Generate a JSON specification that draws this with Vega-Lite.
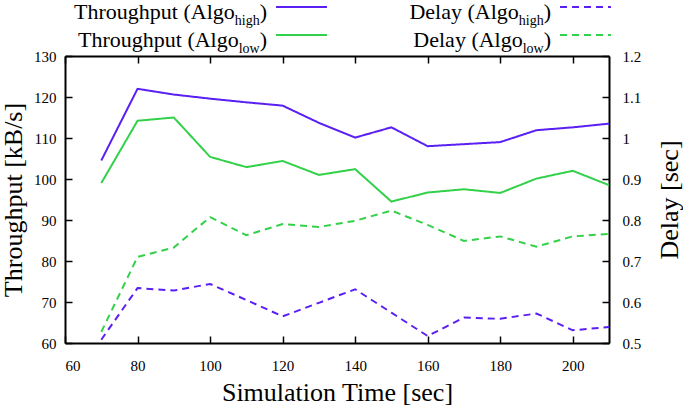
{
  "$schema": "https://vega.github.io/schema/vega-lite/v6.json",
  "background": "white",
  "padding": {"left": 0, "top": 0, "right": 0, "bottom": 0},
  "bounds": "flush",
  "spacing": 14,
  "config": {
    "font": "Times New Roman",
    "view": {"stroke": null},
    "axis": {
      "grid": false,
      "domainColor": "black",
      "domainWidth": 2,
      "tickColor": "black",
      "tickWidth": 1.5,
      "tickSize": -7,
      "labelFont": "Times New Roman",
      "labelFontSize": 15,
      "labelColor": "black",
      "titleFont": "Times New Roman",
      "titleFontSize": 26,
      "titleFontWeight": "normal",
      "titleColor": "black"
    }
  },
  "datasets": {
    "series": [
      {"t": 70, "metric": "Throughput", "algo": "high", "v": 104.5},
      {"t": 80, "metric": "Throughput", "algo": "high", "v": 122},
      {"t": 90, "metric": "Throughput", "algo": "high", "v": 120.6},
      {"t": 100, "metric": "Throughput", "algo": "high", "v": 119.6},
      {"t": 110, "metric": "Throughput", "algo": "high", "v": 118.7},
      {"t": 120, "metric": "Throughput", "algo": "high", "v": 117.9},
      {"t": 130, "metric": "Throughput", "algo": "high", "v": 113.7},
      {"t": 140, "metric": "Throughput", "algo": "high", "v": 110.1},
      {"t": 150, "metric": "Throughput", "algo": "high", "v": 112.6},
      {"t": 160, "metric": "Throughput", "algo": "high", "v": 108},
      {"t": 170, "metric": "Throughput", "algo": "high", "v": 108.5},
      {"t": 180, "metric": "Throughput", "algo": "high", "v": 109},
      {"t": 190, "metric": "Throughput", "algo": "high", "v": 111.9},
      {"t": 200, "metric": "Throughput", "algo": "high", "v": 112.6},
      {"t": 210, "metric": "Throughput", "algo": "high", "v": 113.5},
      {"t": 70, "metric": "Throughput", "algo": "low", "v": 99},
      {"t": 80, "metric": "Throughput", "algo": "low", "v": 114.2},
      {"t": 90, "metric": "Throughput", "algo": "low", "v": 115},
      {"t": 100, "metric": "Throughput", "algo": "low", "v": 105.4},
      {"t": 110, "metric": "Throughput", "algo": "low", "v": 102.9},
      {"t": 120, "metric": "Throughput", "algo": "low", "v": 104.4},
      {"t": 130, "metric": "Throughput", "algo": "low", "v": 101},
      {"t": 140, "metric": "Throughput", "algo": "low", "v": 102.4},
      {"t": 150, "metric": "Throughput", "algo": "low", "v": 94.5},
      {"t": 160, "metric": "Throughput", "algo": "low", "v": 96.7},
      {"t": 170, "metric": "Throughput", "algo": "low", "v": 97.5},
      {"t": 180, "metric": "Throughput", "algo": "low", "v": 96.6},
      {"t": 190, "metric": "Throughput", "algo": "low", "v": 100.1},
      {"t": 200, "metric": "Throughput", "algo": "low", "v": 102},
      {"t": 210, "metric": "Throughput", "algo": "low", "v": 98.5},
      {"t": 70, "metric": "Delay", "algo": "high", "v": 0.508},
      {"t": 80, "metric": "Delay", "algo": "high", "v": 0.634},
      {"t": 90, "metric": "Delay", "algo": "high", "v": 0.628},
      {"t": 100, "metric": "Delay", "algo": "high", "v": 0.644},
      {"t": 110, "metric": "Delay", "algo": "high", "v": 0.605},
      {"t": 120, "metric": "Delay", "algo": "high", "v": 0.565},
      {"t": 130, "metric": "Delay", "algo": "high", "v": 0.598},
      {"t": 140, "metric": "Delay", "algo": "high", "v": 0.631},
      {"t": 150, "metric": "Delay", "algo": "high", "v": 0.574},
      {"t": 160, "metric": "Delay", "algo": "high", "v": 0.517},
      {"t": 170, "metric": "Delay", "algo": "high", "v": 0.562},
      {"t": 180, "metric": "Delay", "algo": "high", "v": 0.559},
      {"t": 190, "metric": "Delay", "algo": "high", "v": 0.572},
      {"t": 200, "metric": "Delay", "algo": "high", "v": 0.531},
      {"t": 210, "metric": "Delay", "algo": "high", "v": 0.539},
      {"t": 70, "metric": "Delay", "algo": "low", "v": 0.527},
      {"t": 80, "metric": "Delay", "algo": "low", "v": 0.71},
      {"t": 90, "metric": "Delay", "algo": "low", "v": 0.733},
      {"t": 100, "metric": "Delay", "algo": "low", "v": 0.807},
      {"t": 110, "metric": "Delay", "algo": "low", "v": 0.763},
      {"t": 120, "metric": "Delay", "algo": "low", "v": 0.79},
      {"t": 130, "metric": "Delay", "algo": "low", "v": 0.783},
      {"t": 140, "metric": "Delay", "algo": "low", "v": 0.798},
      {"t": 150, "metric": "Delay", "algo": "low", "v": 0.823},
      {"t": 160, "metric": "Delay", "algo": "low", "v": 0.788},
      {"t": 170, "metric": "Delay", "algo": "low", "v": 0.749},
      {"t": 180, "metric": "Delay", "algo": "low", "v": 0.76},
      {"t": 190, "metric": "Delay", "algo": "low", "v": 0.735},
      {"t": 200, "metric": "Delay", "algo": "low", "v": 0.76},
      {"t": 210, "metric": "Delay", "algo": "low", "v": 0.766}
    ],
    "keys": [
      {"metric": "Throughput", "algo": "high", "label": "Throughput (Algo", "sub": "high"},
      {"metric": "Throughput", "algo": "low", "label": "Throughput (Algo", "sub": "low"},
      {"metric": "Delay", "algo": "high", "label": "Delay (Algo", "sub": "high"},
      {"metric": "Delay", "algo": "low", "label": "Delay (Algo", "sub": "low"}
    ]
  },
  "vconcat": [
    {
      "width": 568,
      "height": 42,
      "data": {"name": "keys"},
      "encoding": {
        "y": {"field": "algo", "type": "nominal", "scale": {"type": "point", "domain": ["high", "low"], "padding": 0.25}, "axis": null},
        "color": {"field": "algo", "type": "nominal", "scale": {"domain": ["high", "low"], "range": ["#5a1ff2", "#33d14a"]}, "legend": null}
      },
      "layer": [
        {
          "mark": {"type": "rule", "strokeWidth": 2},
          "encoding": {
            "x": {"field": "metric", "type": "nominal", "bandPosition": 0.743, "scale": {"type": "band", "domain": ["Throughput", "Delay"], "paddingInner": 0, "paddingOuter": 0}, "axis": null},
            "x2": {"field": "metric", "bandPosition": 0.9225},
            "strokeDash": {"field": "metric", "type": "nominal", "scale": {"domain": ["Throughput", "Delay"], "range": [[1, 0], [7, 5]]}, "legend": null}
          }
        },
        {
          "mark": {"type": "text", "text": ")", "align": "right", "baseline": "alphabetic", "dx": -9, "dy": 12, "fontSize": 22, "font": "Times New Roman"},
          "encoding": {
            "x": {"field": "metric", "type": "nominal", "bandPosition": 0.743, "axis": null},
            "color": {"value": "black"}
          }
        },
        {
          "mark": {"type": "text", "align": "right", "baseline": "alphabetic", "dx": -16.3, "dy": 18, "fontSize": 14, "font": "Times New Roman"},
          "encoding": {
            "x": {"field": "metric", "type": "nominal", "bandPosition": 0.743, "axis": null},
            "text": {"field": "sub"},
            "color": {"value": "black"}
          }
        },
        {
          "transform": [{"filter": "datum.algo === 'high'"}],
          "mark": {"type": "text", "align": "right", "baseline": "alphabetic", "dx": -41.2, "dy": 12, "fontSize": 22, "font": "Times New Roman"},
          "encoding": {
            "x": {"field": "metric", "type": "nominal", "bandPosition": 0.743, "axis": null},
            "text": {"field": "label"},
            "color": {"value": "black"}
          }
        },
        {
          "transform": [{"filter": "datum.algo === 'low'"}],
          "mark": {"type": "text", "align": "right", "baseline": "alphabetic", "dx": -37.3, "dy": 12, "fontSize": 22, "font": "Times New Roman"},
          "encoding": {
            "x": {"field": "metric", "type": "nominal", "bandPosition": 0.743, "axis": null},
            "text": {"field": "label"},
            "color": {"value": "black"}
          }
        }
      ]
    },
    {
      "width": 544,
      "height": 287,
      "data": {"name": "series"},
      "layer": [
        {
          "transform": [{"filter": "datum.metric === 'Throughput'"}],
          "mark": {"type": "line", "strokeWidth": 2, "clip": true},
          "encoding": {
            "x": {"field": "t", "type": "quantitative", "scale": {"domain": [60, 210], "nice": false, "zero": false},
                  "axis": {"orient": "bottom", "values": [60, 80, 100, 120, 140, 160, 180, 200], "title": "Simulation Time [sec]", "labelPadding": 22, "titlePadding": 6}},
            "y": {"field": "v", "type": "quantitative", "scale": {"domain": [60, 130], "nice": false, "zero": false},
                  "axis": {"orient": "left", "values": [60, 70, 80, 90, 100, 110, 120, 130], "title": "Throughput [kB/s]", "labelPadding": 16, "titlePadding": 7}},
            "color": {"field": "algo", "type": "nominal", "scale": {"domain": ["high", "low"], "range": ["#5a1ff2", "#33d14a"]}, "legend": null},
            "strokeDash": {"field": "metric", "type": "nominal", "scale": {"domain": ["Throughput", "Delay"], "range": [[1, 0], [7, 5]]}, "legend": null},
            "detail": {"field": "algo"}
          }
        },
        {
          "transform": [{"filter": "datum.metric === 'Delay'"}],
          "mark": {"type": "line", "strokeWidth": 2, "clip": true},
          "encoding": {
            "x": {"field": "t", "type": "quantitative", "scale": {"domain": [60, 210], "nice": false, "zero": false},
                  "axis": {"orient": "top", "values": [60, 80, 100, 120, 140, 160, 180, 200], "labels": false, "title": null}},
            "y": {"field": "v", "type": "quantitative", "scale": {"domain": [0.5, 1.2], "nice": false, "zero": false},
                  "axis": {"orient": "right", "values": [0.5, 0.6, 0.7, 0.8, 0.9, 1, 1.1, 1.2], "format": "~g", "title": "Delay [sec]", "titleAngle": 270, "titleBaseline": "top", "labelPadding": 20, "titlePadding": 16}},
            "color": {"field": "algo", "type": "nominal", "scale": {"domain": ["high", "low"], "range": ["#5a1ff2", "#33d14a"]}, "legend": null},
            "strokeDash": {"field": "metric", "type": "nominal", "scale": {"domain": ["Throughput", "Delay"], "range": [[1, 0], [7, 5]]}, "legend": null},
            "detail": {"field": "algo"}
          }
        }
      ],
      "resolve": {"scale": {"y": "independent"}, "axis": {"x": "independent", "y": "independent"}}
    }
  ]
}
